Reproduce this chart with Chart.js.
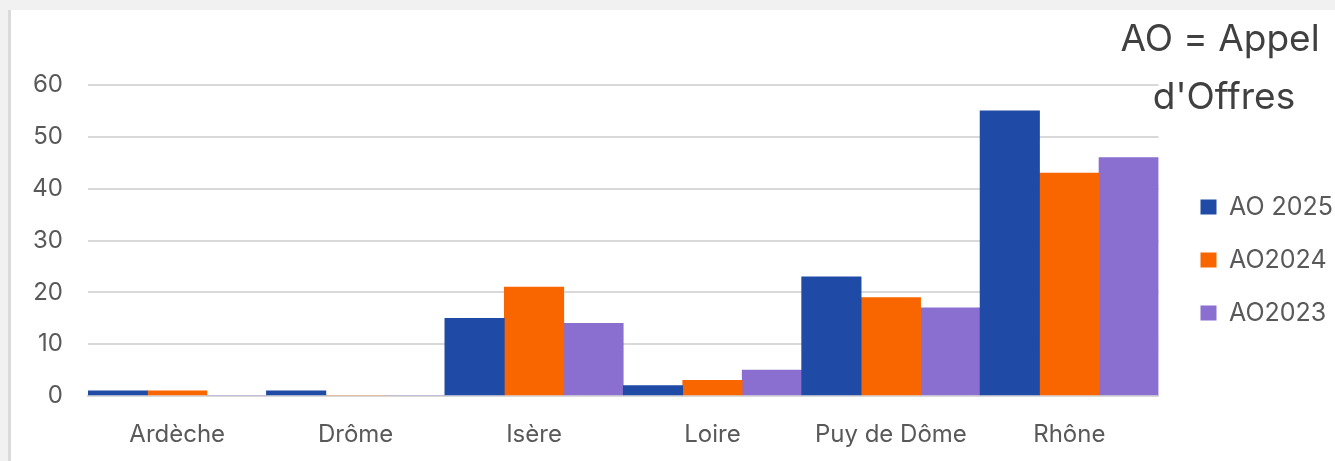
<!DOCTYPE html>
<html>

<head>
  <title>Appels d'Offres par département</title>
  <script src="https://cdn.jsdelivr.net/npm/chart.js"></script>
  <style>
    body { margin: 0; background: #f1f1f1; }
    #panel { position: absolute; left: 8px; top: 10px; right: 0; bottom: 0; background: #fff; border-left: 3px solid #dadada; }
    #myChart { position: absolute; left: 0; top: 0; }
  </style>
</head>

<body>
  <div id="panel"></div>
  <canvas id="myChart" width="1335" height="461"></canvas>
  <script>
    // Data
    var departements = ['Ardèche', 'Drôme', 'Isère', 'Loire', 'Puy de Dôme', 'Rhône'];
    var ao2025 = [1, 1, 15, 2, 23, 55];
    var ao2024 = [1, 0, 21, 3, 19, 43];
    var ao2023 = [0, 0, 14, 5, 17, 46];
    var yMax = 60;
    var yStep = 10;
    var noteLines = ['AO = Appel', "d'Offres"];

    var fontFamily = 'Inter, "Open Sans", sans-serif';

    // draws the "AO = Appel d'Offres" note in the top right corner
    var notePlugin = {
      id: 'note',
      afterDraw: function (chart) {
        var ctx = chart.ctx;
        ctx.save();
        ctx.font = '37px ' + fontFamily;
        ctx.fillStyle = '#404040';
        ctx.textAlign = 'center';
        ctx.textBaseline = 'alphabetic';
        ctx.fillText(noteLines[0], 1220, 51);
        ctx.fillText(noteLines[1], 1224, 109);
        ctx.restore();
      }
    };

    var ctx = document.getElementById('myChart').getContext('2d');
    var chart = new Chart(ctx, {
      type: 'bar',
      data: {
        labels: departements,
        datasets: [
          { label: 'AO 2025', data: ao2025, backgroundColor: '#1f4aa6' },
          { label: 'AO2024', data: ao2024, backgroundColor: '#f96600' },
          { label: 'AO2023', data: ao2023, backgroundColor: '#8a6fd1' }
        ]
      },
      options: {
        responsive: false,
        animation: false,
        categoryPercentage: 1,
        barPercentage: 1,
        layout: {
          padding: { top: 85, left: 33, right: -8, bottom: 4 }
        },
        scales: {
          x: {
            grid: { display: false, drawTicks: false },
            border: { display: true, color: '#d9d9d9', width: 2 },
            ticks: {
              color: '#595959',
              padding: 24,
              font: { family: fontFamily, size: 24 }
            },
            afterFit: function (scale) { scale.height = 61; }
          },
          y: {
            min: 0,
            max: yMax,
            grid: { color: '#d9d9d9', lineWidth: 2, drawTicks: false },
            border: { display: false },
            ticks: {
              stepSize: yStep,
              color: '#595959',
              padding: 25,
              font: { family: fontFamily, size: 24 }
            },
            afterFit: function (scale) { scale.width = 55; }
          },
          yRight: {
            position: 'right',
            grid: { display: false, drawTicks: false },
            border: { display: false },
            ticks: { display: false },
            afterFit: function (scale) { scale.width = 14; }
          }
        },
        plugins: {
          tooltip: { enabled: false },
          legend: {
            position: 'right',
            fullSize: false,
            // empty title only used as a spacer to push the items down
            title: {
              display: true,
              text: ' ',
              font: { size: 15, lineHeight: 1.2 },
              padding: { top: 21, bottom: 0 }
            },
            labels: {
              boxWidth: 16,
              boxHeight: 15,
              padding: 28,
              color: '#595959',
              font: { family: fontFamily, size: 25 }
            }
          }
        }
      },
      plugins: [notePlugin]
    });
  </script>
</body>

</html>
